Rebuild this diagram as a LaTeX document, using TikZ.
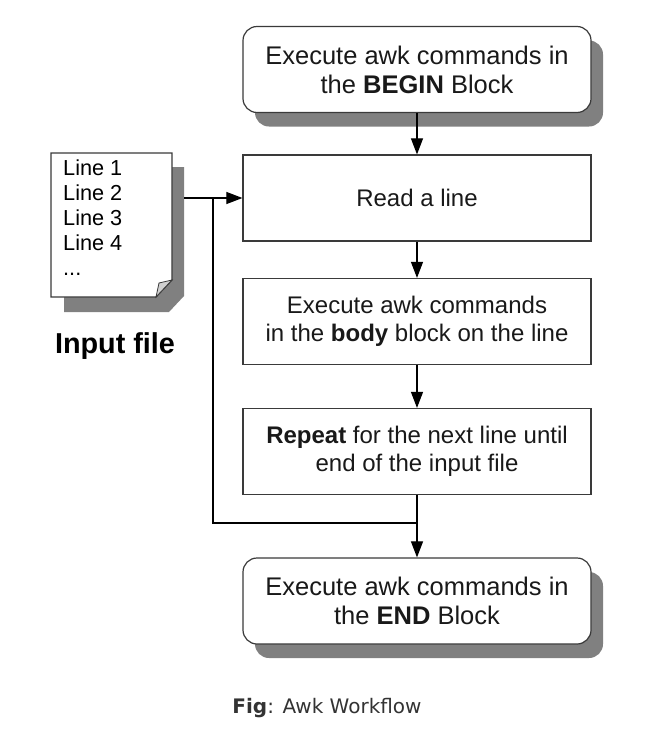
\documentclass[tikz,border=0pt]{standalone}
\usepackage{fontspec}
\setmainfont{Liberation Sans}
\newfontfamily\capfont{DejaVu Sans}
\usetikzlibrary{arrows.meta, shadows}

\definecolor{shadowgray}{HTML}{808080}
\definecolor{edgegray}{HTML}{3A3A3A}
\definecolor{flapgray}{HTML}{D0D0D0}

\tikzset{
  procbox/.style={draw=edgegray, line width=1.2pt, fill=white, rectangle, minimum width=348pt, minimum height=86pt, align=center, inner sep=0pt, text=black!90, font=\fontsize{24}{28}\selectfont},
  blockbox/.style={procbox, rounded corners=14pt, font=\fontsize{25.5}{29}\selectfont, drop shadow={shadow xshift=12pt, shadow yshift=-14pt, fill=shadowgray, opacity=1}},
  flow/.style={line width=1.1pt, -{Triangle[length=16pt,width=12pt]}},
  plain/.style={line width=1.1pt},
  linetext/.style={inner sep=0pt, font=\fontsize{21.7}{25}\selectfont}
}

\begin{document}
\begin{tikzpicture}[x=1pt, y=-1pt]
  \useasboundingbox (0,0) rectangle (653,742);

  % input file page with shadow and folded corner
  \fill [shadowgray] (64,167) -- (184,167) -- (184,296) -- (169,312) -- (64,312) -- cycle;
  \draw [edgegray, line width=1.2pt, fill=white] (51,153) -- (172,153) -- (172,280) -- (156,297) -- (51,297) -- cycle;
  \draw [edgegray, line width=0.8pt, fill=flapgray] (156,297) -- (159,283) -- (172,280) -- cycle;
  \foreach \i in {1,...,4}
    \node [linetext, anchor=base west] (line\i) at (63,150+25*\i) {Line \i};
  \node [linetext, anchor=base west] (dots) at (63,275) {...};
  \node [anchor=base, inner sep=0pt, font=\fontsize{28.8}{32}\selectfont\bfseries] (inputfile) at (115,353) {Input file};

  % workflow boxes
  \node [blockbox] (begin) at (417,69.5) {Execute awk commands in\\the \textbf{BEGIN} Block};
  \node [procbox] (read) at (417,198) {Read a line};
  \node [procbox] (body) at (417,321.5) {Execute awk commands\\in the \textbf{body} block on the line};
  \node [procbox] (repeat) at (417,451.5) {\textbf{Repeat} for the next line until\\end of the input file};
  \node [blockbox] (end) at (417,601) {Execute awk commands in\\the \textbf{END} Block};

  % connectors
  \coordinate (docout) at (184,198);
  \coordinate (loopturn) at (213,523);
  \draw [flow] (begin.south) -- (read.north);
  \draw [flow] (read.south) -- (body.north);
  \draw [flow] (body.south) -- (repeat.north);
  \draw [flow] (repeat.south) -- (end.north);
  \draw [flow] (docout) -- (read.west);
  \draw [plain] (repeat.south |- loopturn) -- (loopturn) -- (loopturn |- read.west);

  % caption
  \node [anchor=base, inner sep=0pt, text=black!80, font=\capfont\fontsize{20}{24}\selectfont] (caption) at (327,713) {\textbf{Fig}: Awk Workflow};
\end{tikzpicture}
\end{document}
